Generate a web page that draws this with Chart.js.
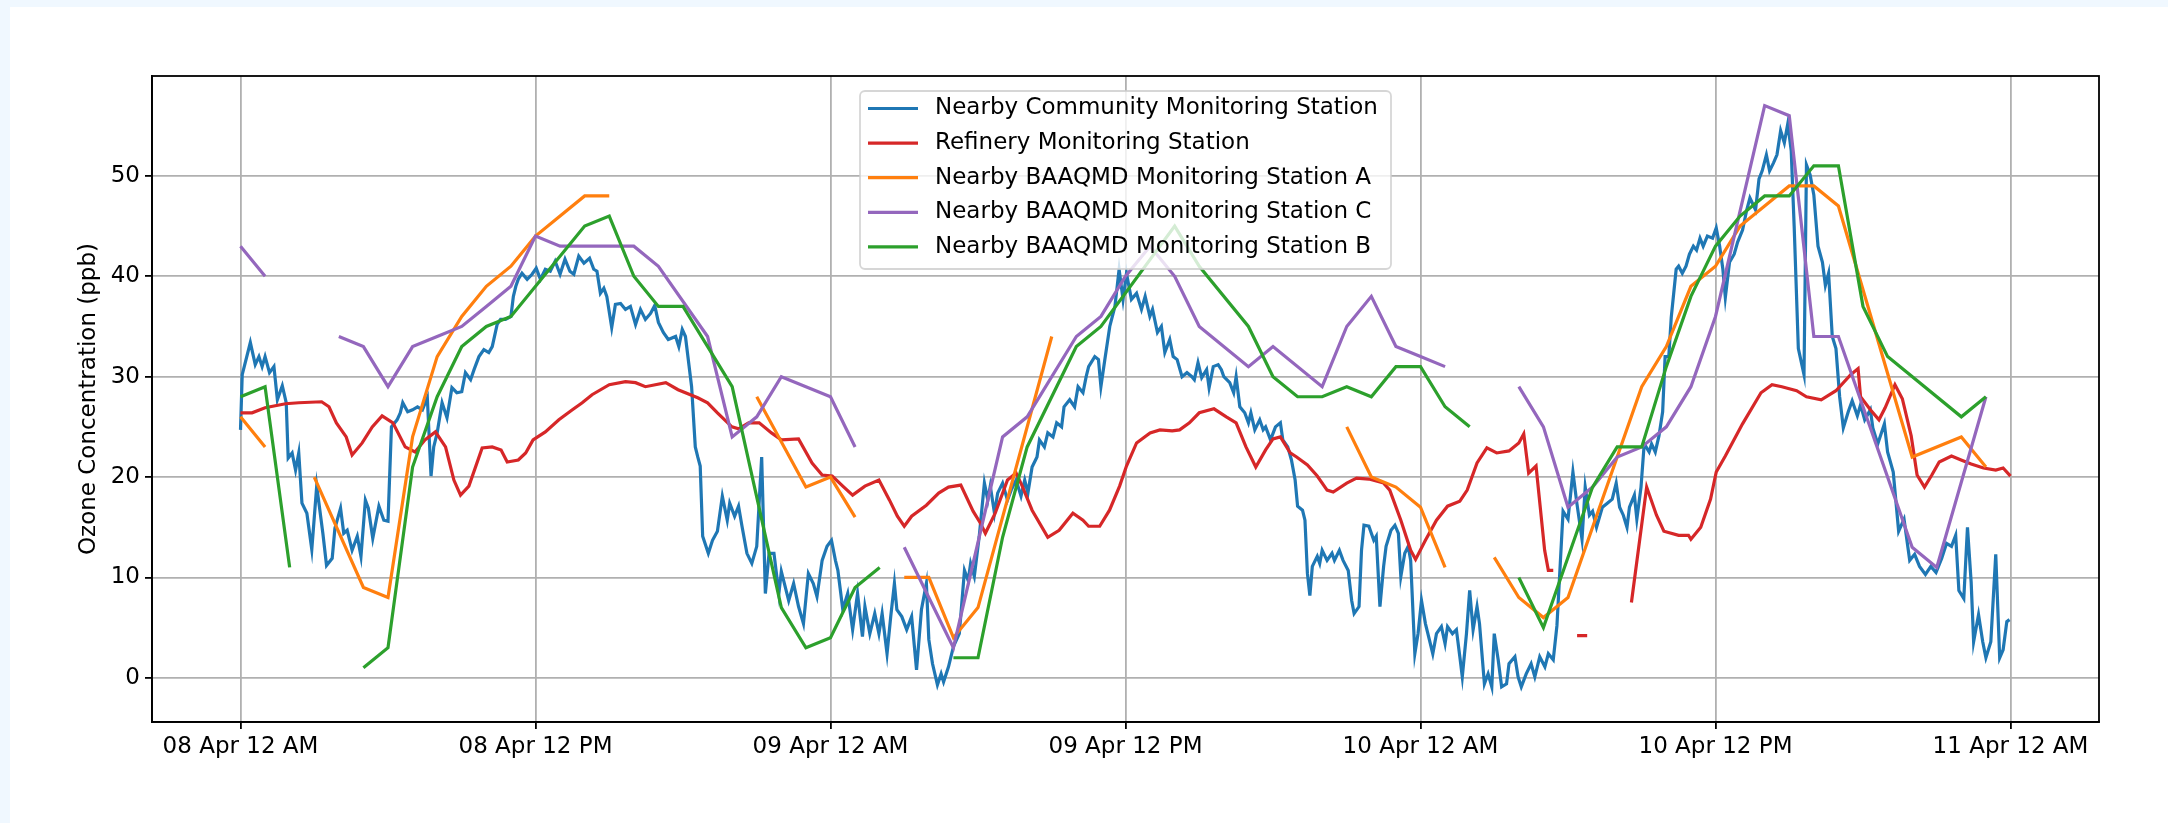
<!DOCTYPE html>
<html>
<head>
<meta charset="utf-8">
<script src="https://cdn.jsdelivr.net/npm/chart.js@4.4.1/dist/chart.umd.min.js"></script>
<style>
  html, body { margin: 0; padding: 0; background: #f0f8ff; }
  #card { position: absolute; left: 10px; top: 7px; right: 0; bottom: 0; background: #fff; }
  #wrap { position: absolute; left: 0; top: 0; width: 2168px; height: 823px; }
</style>
</head>
<body>
<div id="card"></div>
<div id="wrap"><canvas id="ozoneChart" width="2168" height="823"></canvas></div>
<script>
// x values are hours since 08 Apr 12 AM, y values are ppb; null = missing data
const tickHours = [0, 12, 24, 36, 48, 60, 72];
const tickLabels = ['08 Apr 12 AM', '08 Apr 12 PM', '09 Apr 12 AM', '09 Apr 12 PM',
                    '10 Apr 12 AM', '10 Apr 12 PM', '11 Apr 12 AM'];
const yTicks = [0, 10, 20, 30, 40, 50];

const community = [
  [0,24.7],[0.07,30.2],[0.4,33.4],[0.6,31.2],[0.75,32.0],[0.88,31.0],[1.0,32.0],[1.18,30.4],[1.36,31.0],[1.5,27.7],
  [1.7,29.1],[1.86,27.4],[1.94,21.9],[2.1,22.4],[2.24,20.7],[2.37,22.4],[2.5,17.4],[2.7,16.4],[2.9,12.8],[3.1,19.1],
  [3.35,14.4],[3.5,11.2],[3.73,11.9],[3.84,14.9],[4.07,16.9],[4.2,14.4],[4.34,14.7],[4.54,12.7],[4.75,14.1],[4.9,12.1],
  [5.08,17.7],[5.2,16.9],[5.38,13.9],[5.63,17.1],[5.83,15.7],[6.0,15.6],[6.14,25.0],[6.37,25.7],[6.5,26.4],[6.6,27.4],
  [6.8,26.5],[7.0,26.7],[7.2,27.0],[7.4,26.7],[7.6,27.9],[7.75,20.1],[7.86,23.0],[8.0,24.4],[8.2,27.4],[8.4,25.9],
  [8.6,28.9],[8.8,28.4],[9.0,28.5],[9.15,30.4],[9.36,29.7],[9.5,30.7],[9.7,32.0],[9.9,32.7],[10.1,32.4],[10.24,33.0],
  [10.44,35.2],[10.58,35.7],[10.78,35.7],[11.0,36.0],[11.1,38.0],[11.2,39.0],[11.3,39.7],[11.45,40.3],[11.66,39.7],[11.86,40.2],
  [12.03,40.8],[12.2,39.7],[12.4,40.7],[12.6,40.5],[12.8,41.5],[13.0,40.2],[13.2,41.7],[13.4,40.5],[13.56,40.2],[13.76,42.0],
  [13.97,41.3],[14.2,41.8],[14.37,40.7],[14.5,40.5],[14.64,38.3],[14.78,38.8],[14.9,38.0],[15.1,34.9],[15.25,37.2],[15.46,37.3],
  [15.66,36.7],[15.86,37.0],[16.07,35.2],[16.27,36.7],[16.47,35.7],[16.68,36.3],[16.85,37.1],[17.0,35.4],[17.2,34.4],[17.4,33.7],
  [17.7,34.0],[17.83,33.0],[17.97,34.7],[18.1,34.0],[18.35,29.0],[18.5,23.0],[18.6,22.0],[18.7,21.1],[18.8,14.1],[19.03,12.4],
  [19.2,13.7],[19.4,14.6],[19.6,18.1],[19.8,15.7],[19.9,17.4],[20.1,16.1],[20.26,17.1],[20.4,15.1],[20.6,12.4],[20.8,11.4],
  [21.0,13.1],[21.2,22.0],[21.35,8.4],[21.5,12.4],[21.7,12.4],[21.9,8.4],[22.0,10.6],[22.3,7.7],[22.5,9.4],[22.7,7.1],
  [22.9,5.4],[23.1,10.4],[23.3,9.4],[23.45,8.1],[23.66,11.7],[23.86,13.1],[24.04,13.7],[24.2,11.7],[24.3,10.7],[24.5,6.8],
  [24.7,8.4],[24.9,4.8],[25.1,8.4],[25.3,4.1],[25.4,7.1],[25.6,4.4],[25.8,6.4],[25.97,4.4],[26.1,6.4],[26.3,2.4],
  [26.45,6.1],[26.6,9.4],[26.7,6.8],[26.9,6.1],[27.1,4.8],[27.3,6.1],[27.5,0.8],[27.7,6.8],[27.9,9.4],[28.0,3.8],
  [28.15,1.4],[28.35,-0.7],[28.5,0.4],[28.6,-0.4],[28.8,1.1],[29.0,3.1],[29.24,4.4],[29.45,10.7],[29.6,9.7],[29.7,11.4],
  [29.85,10.1],[30.05,14.1],[30.26,19.4],[30.4,17.7],[30.5,19.1],[30.67,16.4],[30.8,18.4],[31.0,19.4],[31.2,17.7],[31.35,18.7],
  [31.55,19.7],[31.75,18.1],[31.9,19.7],[32.03,18.4],[32.2,21.0],[32.4,22.0],[32.5,23.7],[32.7,23.0],[32.84,24.4],[33.05,24.0],
  [33.2,25.4],[33.4,25.0],[33.5,27.0],[33.73,27.7],[33.93,27.0],[34.07,29.0],[34.27,28.4],[34.4,30.0],[34.5,31.0],[34.75,32.0],
  [34.9,31.7],[35.0,29.0],[35.16,31.7],[35.36,35.0],[35.57,37.0],[35.74,40.7],[35.9,37.7],[36.04,40.3],[36.24,37.7],[36.45,38.3],
  [36.65,36.7],[36.8,38.0],[36.99,36.0],[37.1,36.7],[37.3,34.4],[37.46,35.0],[37.6,32.4],[37.8,33.7],[37.94,32.0],[38.1,31.7],
  [38.3,30.0],[38.5,30.4],[38.7,30.0],[38.8,29.7],[38.95,31.4],[39.1,29.9],[39.3,30.7],[39.4,28.9],[39.57,31.0],[39.77,31.2],
  [39.9,30.7],[40.0,30.0],[40.24,29.4],[40.4,28.4],[40.5,30.0],[40.65,27.0],[40.85,26.4],[41.0,25.4],[41.1,26.4],[41.26,24.7],
  [41.46,25.7],[41.6,24.7],[41.7,25.0],[41.9,23.7],[42.1,25.0],[42.3,25.4],[42.4,23.7],[42.6,23.0],[42.75,21.7],[42.9,19.7],
  [43.0,17.1],[43.2,16.7],[43.3,15.7],[43.4,10.4],[43.5,8.2],[43.6,11.1],[43.8,12.1],[43.9,11.4],[44.0,12.7],[44.2,11.7],
  [44.4,12.4],[44.5,11.7],[44.7,12.7],[44.85,11.7],[45.06,10.7],[45.2,7.7],[45.3,6.4],[45.5,7.1],[45.6,12.7],[45.7,15.2],
  [45.9,15.1],[46.1,13.7],[46.2,14.1],[46.35,7.1],[46.5,11.1],[46.6,13.1],[46.8,14.7],[46.96,15.2],[47.1,14.4],[47.2,10.1],
  [47.36,12.4],[47.5,13.1],[47.6,11.7],[47.77,2.4],[47.9,4.4],[48.04,7.7],[48.2,5.4],[48.3,4.4],[48.5,2.4],[48.65,4.4],
  [48.85,5.1],[49.0,3.4],[49.1,5.1],[49.3,4.4],[49.46,4.8],[49.6,2.1],[49.7,0.1],[49.87,4.4],[50.0,8.7],[50.14,4.8],
  [50.3,7.1],[50.4,5.4],[50.6,-0.6],[50.75,0.4],[50.9,-0.9],[51.0,4.4],[51.16,1.8],[51.3,-0.9],[51.5,-0.6],[51.6,1.4],
  [51.84,2.1],[51.97,0.1],[52.1,-0.9],[52.3,0.4],[52.5,1.4],[52.65,0.1],[52.85,2.1],[53.06,1.1],[53.2,2.4],[53.4,1.8],
  [53.55,5.2],[53.8,16.6],[54.0,15.8],[54.2,20.5],[54.36,17.4],[54.57,13.8],[54.7,19.0],[54.87,16.2],[55.0,16.6],[55.16,15.0],
  [55.4,17.0],[55.6,17.4],[55.8,17.8],[55.96,19.4],[56.1,17.0],[56.25,16.2],[56.4,15.0],[56.5,17.0],[56.7,18.2],[56.8,15.8],
  [56.97,19.0],[57.1,23.3],[57.3,22.5],[57.4,23.3],[57.55,22.5],[57.7,24.1],[57.85,26.5],[57.95,32.0],[58.1,32.0],[58.2,35.9],
  [58.4,40.7],[58.5,41.0],[58.65,40.3],[58.8,41.0],[58.94,42.2],[59.1,43.0],[59.23,42.6],[59.37,43.8],[59.5,43.0],[59.67,44.0],
  [59.88,43.8],[60.03,44.8],[60.17,43.0],[60.3,40.7],[60.4,37.9],[60.57,41.4],[60.76,42.2],[60.9,43.4],[61.1,44.6],[61.27,46.6],
  [61.4,47.8],[61.63,46.6],[61.77,49.7],[61.9,50.5],[62.07,52.1],[62.2,50.5],[62.36,51.3],[62.5,52.1],[62.65,54.5],[62.8,53.3],
  [62.94,55.2],[63.08,52.5],[63.2,45.0],[63.37,32.8],[63.6,30.2],[63.7,51.1],[63.85,50.1],[64.0,48.1],[64.17,43.0],[64.35,41.4],
  [64.47,39.1],[64.6,40.3],[64.75,34.0],[64.9,32.8],[65.05,28.0],[65.2,24.9],[65.4,26.5],[65.56,27.6],[65.77,26.1],[65.9,27.2],
  [66.07,25.7],[66.3,26.7],[66.4,24.9],[66.6,23.3],[66.87,25.3],[67.0,22.5],[67.23,20.5],[67.45,14.6],[67.67,15.8],[67.9,11.7],
  [68.1,12.3],[68.3,11.1],[68.54,10.3],[68.76,11.1],[68.97,10.5],[69.2,11.9],[69.4,13.4],[69.6,13.1],[69.77,14.2],[69.9,8.7],
  [70.1,7.9],[70.25,15.0],[70.4,9.5],[70.5,3.6],[70.7,6.3],[70.87,3.6],[71.0,2.0],[71.2,3.6],[71.4,12.3],[71.56,2.0],
  [71.7,2.8],[71.85,5.6],[71.96,5.8]
];

const refinery = [
  [0,26.4],[0.47,26.4],[1.0,26.9],[1.83,27.3],[2.37,27.4],[3.3,27.5],[3.6,27.0],[3.9,25.4],[4.3,24.0],[4.54,22.2],
  [4.95,23.4],[5.36,25.0],[5.76,26.1],[6.2,25.4],[6.7,23.0],[7.1,22.5],[7.5,23.7],[7.93,24.5],[8.34,23.0],[8.68,19.7],
  [8.95,18.2],[9.29,19.1],[9.83,22.9],[10.24,23.0],[10.6,22.7],[10.85,21.5],[11.3,21.7],[11.6,22.4],[11.9,23.7],[12.4,24.5],
  [12.95,25.7],[13.5,26.7],[13.9,27.4],[14.3,28.2],[15.0,29.2],[15.66,29.5],[16.07,29.4],[16.47,29.0],[17.3,29.4],[17.8,28.7],
  [18.6,27.9],[19.0,27.4],[19.4,26.4],[19.99,25.0],[20.26,24.8],[20.67,25.4],[21.1,25.4],[21.6,24.4],[22.0,23.7],[22.7,23.8],
  [23.25,21.4],[23.66,20.2],[24.07,20.1],[24.5,19.1],[24.9,18.2],[25.4,19.1],[25.97,19.7],[26.4,17.7],[26.72,16.1],[27.0,15.1],
  [27.3,16.1],[27.9,17.2],[28.4,18.4],[28.8,19.0],[29.3,19.2],[29.8,16.6],[30.1,15.4],[30.3,14.4],[30.7,16.4],[31.2,19.7],
  [31.55,20.4],[31.8,19.1],[32.2,16.7],[32.84,14.0],[33.3,14.7],[33.86,16.4],[34.27,15.7],[34.5,15.1],[34.95,15.1],[35.35,16.7],
  [35.76,19.1],[36.04,21.1],[36.45,23.4],[37.0,24.4],[37.4,24.7],[37.9,24.6],[38.2,24.7],[38.6,25.4],[39.0,26.4],[39.6,26.8],
  [40.1,26.0],[40.5,25.4],[40.9,23.0],[41.3,21.0],[41.7,22.7],[42.0,23.8],[42.3,24.0],[42.7,22.4],[42.96,22.0],[43.4,21.2],
  [43.8,20.1],[44.2,18.7],[44.45,18.5],[45.0,19.4],[45.4,19.9],[45.9,19.8],[46.5,19.4],[46.75,18.7],[47.2,15.7],[47.6,12.7],
  [47.8,11.8],[48.2,13.7],[48.65,15.7],[49.1,17.1],[49.6,17.6],[49.9,18.7],[50.3,21.4],[50.7,22.9],[51.1,22.4],[51.6,22.6],
  [52.0,23.4],[52.2,24.3],[52.4,20.4],[52.7,21.1],[53.05,12.7],[53.2,10.7],[53.4,10.7],[53.9,null],[54.37,4.2],[54.78,4.2],
  [55.5,null],[56.58,7.5],[57.2,19.0],[57.6,16.2],[57.9,14.6],[58.5,14.2],[58.9,14.2],[59.0,13.8],[59.4,15.0],[59.8,17.8],
  [60.03,20.5],[60.4,22.1],[61.1,25.3],[61.85,28.4],[62.3,29.2],[62.7,29.0],[63.3,28.6],[63.7,28.0],[64.3,27.7],[64.9,28.6],
  [65.5,30.2],[65.8,30.8],[65.9,28.0],[66.3,26.7],[66.65,25.7],[66.9,26.9],[67.3,29.2],[67.6,27.8],[67.96,24.1],[68.2,20.2],
  [68.5,19.0],[68.8,20.2],[69.1,21.5],[69.6,22.1],[69.99,21.7],[70.4,21.3],[70.9,20.9],[71.4,20.7],[71.7,20.9],[72,20.1]
];

const stationA = [
  [0,26],[1,23],[2,null],[3,20],[5,9],[6,8],[7,24],[8,32],[9,36],[10,39],[11,41],[12,44],[13,46],[14,48],[15,48],
  [16,null],[21,28],[23,19],[24,20],[25,16],[26,null],[27,10],[28,10],[29,4],[30,7],[33,34],[34,null],
  [45,25],[46,20],[47,19],[48,17],[49,11],[50,null],[51,12],[52,8],[53,6],[54,8],[57,29],[58,33],[59,39],
  [60,41],[61,45],[62,47],[63,49],[64,49],[65,47],[68,22],[70,24],[71,21]
];

const stationC = [
  [0,43],[1,40],[2,null],[4,34],[5,33],[6,29],[7,33],[8,34],[9,35],[10,37],[11,39],[12,44],[13,43],[16,43],[17,41],
  [19,34],[20,24],[21,26],[22,30],[24,28],[25,23],[26,null],[27,13],[29,3],[31,24],[32,26],[34,34],[35,36],[36,40],
  [37,43],[38,40],[39,35],[41,31],[42,33],[44,29],[45,35],[46,38],[47,33],[48,32],[49,31],[50,null],[52,29],[53,25],
  [54,17],[55,19],[56,22],[57,23],[58,25],[59,29],[60,36],[62,57],[63,56],[64,34],[65,34],[68,13],[69,11],[71,28]
];

const stationB = [
  [0,28],[1,29],[2,11],[3,null],[5,1],[6,3],[7,21],[8,28],[9,33],[10,35],[11,36],[14,45],[15,46],[16,40],[17,37],
  [18,37],[20,29],[22,7],[23,3],[24,4],[25,9],[26,11],[27,null],[29,2],[30,2],[31,14],[32,23],[34,33],[35,35],
  [38,45],[39,41],[41,35],[42,30],[43,28],[44,28],[45,29],[46,28],[47,31],[48,31],[49,27],[50,25],[51,null],
  [52,10],[53,5],[55,19],[56,23],[57,23],[58,31],[59,38],[60,43],[61,46],[62,48],[63,48],[64,51],[65,51],
  [66,37],[67,32],[70,26],[71,28]
];

const FONT = { family: 'DejaVu Sans', size: 23 };

function toPoints(rows) {
  return rows.map(r => ({ x: r[0], y: r[1] }));
}

function makeSet(label, rows, color, order) {
  return {
    label: label,
    data: toPoints(rows),
    borderColor: color,
    backgroundColor: color,
    borderWidth: 3.2,
    pointRadius: 0,
    tension: 0,
    spanGaps: false,
    order: order
  };
}

// top/right spines + matplotlib style legend inside the axes
const framePlugin = {
  id: 'frameAndLegend',
  afterDraw(chart) {
    const ctx = chart.ctx;
    const a = chart.chartArea;
    ctx.save();
    ctx.strokeStyle = '#000';
    ctx.lineWidth = 1.8;
    ctx.strokeRect(a.left, a.top, a.right - a.left, a.bottom - a.top);

    const bx = 860, by = 91, bw = 531, bh = 178, r = 5;
    ctx.beginPath();
    ctx.moveTo(bx + r, by);
    ctx.arcTo(bx + bw, by, bx + bw, by + bh, r);
    ctx.arcTo(bx + bw, by + bh, bx, by + bh, r);
    ctx.arcTo(bx, by + bh, bx, by, r);
    ctx.arcTo(bx, by, bx + bw, by, r);
    ctx.closePath();
    ctx.fillStyle = 'rgba(255,255,255,0.8)';
    ctx.fill();
    ctx.strokeStyle = 'rgba(204,204,204,0.8)';
    ctx.lineWidth = 1.8;
    ctx.stroke();

    ctx.font = FONT.size + 'px "' + FONT.family + '"';
    ctx.textBaseline = 'middle';
    ctx.textAlign = 'left';
    chart.data.datasets.forEach((ds, i) => {
      const y = 108.5 + i * 34.6;
      ctx.strokeStyle = ds.borderColor;
      ctx.lineWidth = 3.2;
      ctx.beginPath();
      ctx.moveTo(868, y);
      ctx.lineTo(918, y);
      ctx.stroke();
      ctx.fillStyle = '#000';
      ctx.fillText(ds.label, 935, y);
    });
    ctx.restore();
  }
};

const ctx = document.getElementById('ozoneChart');

new Chart(ctx, {
  type: 'line',
  data: {
    datasets: [
      makeSet('Nearby Community Monitoring Station', community, '#1f77b4', 5),
      makeSet('Refinery Monitoring Station', refinery, '#d62728', 4),
      makeSet('Nearby BAAQMD Monitoring Station A', stationA, '#ff7f0e', 3),
      makeSet('Nearby BAAQMD Monitoring Station C', stationC, '#9467bd', 2),
      makeSet('Nearby BAAQMD Monitoring Station B', stationB, '#2ca02c', 1)
    ]
  },
  options: {
    responsive: false,
    devicePixelRatio: 1,
    animation: false,
    layout: { padding: { top: 76, right: 69, left: 0, bottom: 0 } },
    plugins: { legend: { display: false }, tooltip: { enabled: false } },
    scales: {
      x: {
        type: 'linear',
        min: -3.6,
        max: 75.6,
        afterBuildTicks: s => { s.ticks = tickHours.map(v => ({ value: v })); },
        afterFit: s => { s.height = 101; },
        ticks: {
          autoSkip: false,
          maxRotation: 0,
          padding: 4,
          color: '#000',
          font: FONT,
          callback: v => tickLabels[tickHours.indexOf(v)]
        },
        grid: { color: '#b0b0b0', lineWidth: 1.8, tickLength: 7, tickColor: '#000', tickWidth: 1.8 },
        border: { color: '#000', width: 1.8 }
      },
      y: {
        type: 'linear',
        min: -4.4,
        max: 59.95,
        afterBuildTicks: s => { s.ticks = yTicks.map(v => ({ value: v })); },
        afterFit: s => { s.width = 152; },
        ticks: { padding: 5, color: '#000', font: FONT, callback: v => String(v) },
        title: {
          display: true,
          text: 'Ozone Concentration (ppb)',
          color: '#000',
          font: FONT,
          padding: { top: 75, bottom: 0 }
        },
        grid: { color: '#b0b0b0', lineWidth: 1.8, tickLength: 7, tickColor: '#000', tickWidth: 1.8 },
        border: { color: '#000', width: 1.8 }
      }
    }
  },
  plugins: [framePlugin]
});
</script>
</body>
</html>
